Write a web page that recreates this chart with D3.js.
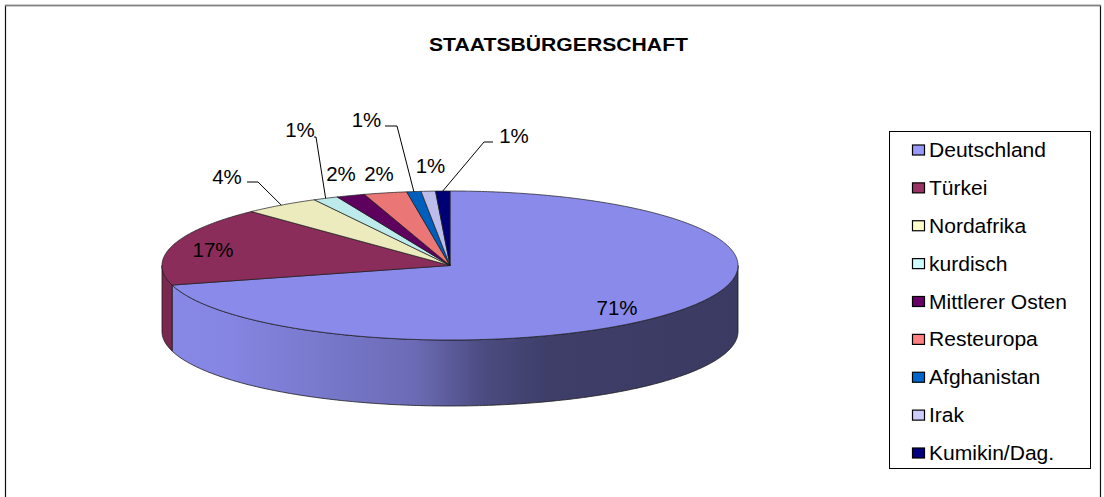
<!DOCTYPE html>
<html>
<head>
<meta charset="utf-8">
<script src="https://cdn.jsdelivr.net/npm/d3@7"></script>
<style>
  body { margin: 0; background: #fff; }
  text { font-family: Arial, "Liberation Sans", sans-serif; }
</style>
</head>
<body>
<div id="chart"></div>
<script>
// data (percent shares)
var categories = ["Deutschland", "Türkei", "Nordafrika", "kurdisch", "Mittlerer Osten",
                  "Resteuropa", "Afghanistan", "Irak", "Kumikin/Dag."];
var values = [70.7, 17.1, 4.3, 1.4, 1.6, 2.4, 0.8, 0.8, 0.8];
var topColors = ["#8a8aeb", "#8b2d5b", "#ebebbe", "#bdebeb", "#5e005e",
                 "#eb7676", "#005ebd", "#bdbdeb", "#000076"];
var swatchColors = ["#9999ff", "#993366", "#ffffcc", "#ccffff", "#660066",
                    "#ff8080", "#0066cc", "#ccccff", "#000080"];
var title = "STAATSBÜRGERSCHAFT";

var width = 1104, height = 497;
var cx = 450, cy = 265.5, rx = 288, ry = 74.5, depth = 66;

// label placement (text centre x, baseline y) and leader knees
var labelPos = [[617, 315], [213, 257], [227, 184], [300, 137], [341, 181],
                [379, 181], [366.5, 127], [430.5, 173], [514, 143]];
var leaders = {
  2: [[247, 182], [258, 182]],
  3: [[314, 137], [316, 137]],
  6: [[385, 126], [397, 126]],
  8: [[493, 142], [484, 142]]
};

var svg = d3.select("#chart")
  .append("svg")
  .attr("width", width)
  .attr("height", height);

// chart frame
svg.append("rect")
  .attr("x", 5.5).attr("y", 5.5)
  .attr("width", 1095).attr("height", 500)
  .attr("fill", "none").attr("stroke", "#111").attr("stroke-width", 1.2);
svg.append("line")
  .attr("x1", 5).attr("x2", 1101).attr("y1", 5.5).attr("y2", 5.5)
  .attr("stroke", "#808080").attr("stroke-width", 1.4);

// gradient for the side of the big slice
var grad = svg.append("defs").append("linearGradient")
  .attr("id", "sideGrad")
  .attr("gradientUnits", "userSpaceOnUse")
  .attr("x1", cx - rx).attr("x2", cx + rx).attr("y1", 0).attr("y2", 0);
[[0, "#8888e8"], [0.12, "#8585e2"], [0.44, "#6b6bb5"], [0.56, "#4b4b80"],
 [0.67, "#3e3e69"], [1, "#3a3a62"]].forEach(function(s) {
  grad.append("stop").attr("offset", s[0]).attr("stop-color", s[1]);
});

var pie = d3.pie().sort(null).startAngle(0).endAngle(2 * Math.PI);
var arcs = pie(values);
var total = d3.sum(values);

function pt(a, dy) {
  return [cx + rx * Math.sin(a), cy - ry * Math.cos(a) + (dy || 0)];
}
function arcPoints(a0, a1, dy) {
  var n = Math.max(2, Math.ceil(Math.abs(a1 - a0) / 0.01));
  return d3.range(n + 1).map(function(i) { return pt(a0 + (a1 - a0) * i / n, dy); });
}
var line = d3.line();

// sides (front half: angles PI/2 .. 3PI/2)
var sideColors = ["url(#sideGrad)", "#7a2850"];
arcs.forEach(function(d, i) {
  var a0 = Math.max(d.startAngle, Math.PI / 2);
  var a1 = Math.min(d.endAngle, 3 * Math.PI / 2);
  if (a1 <= a0) return;
  var pts = arcPoints(a0, a1, 0).concat(arcPoints(a1, a0, depth));
  svg.append("path")
    .attr("d", line(pts) + "Z")
    .attr("fill", sideColors[i] || topColors[i])
    .attr("stroke", "#1a1a1a")
    .attr("stroke-width", 0.8)
    .attr("stroke-linejoin", "round");
});

// top faces
svg.selectAll("path.top")
  .data(arcs)
  .enter()
  .append("path")
  .attr("class", "top")
  .attr("d", function(d) {
    return line([[cx, cy]].concat(arcPoints(d.startAngle, d.endAngle, 0))) + "Z";
  })
  .attr("fill", function(d, i) { return topColors[i]; })
  .attr("stroke", "#1a1a1a")
  .attr("stroke-width", 0.7)
  .attr("stroke-linejoin", "round");

// leader lines
arcs.forEach(function(d, i) {
  if (!leaders[i]) return;
  var mid = (d.startAngle + d.endAngle) / 2;
  var pts = leaders[i].concat([pt(mid, 0)]);
  svg.append("path")
    .attr("d", line(pts))
    .attr("fill", "none")
    .attr("stroke", "#000")
    .attr("stroke-width", 1);
});

// percentage labels
svg.selectAll("text.pct")
  .data(arcs)
  .enter()
  .append("text")
  .attr("class", "pct")
  .attr("transform", function(d, i) {
    return "translate(" + labelPos[i][0] + "," + labelPos[i][1] + ") scale(1.05,1)";
  })
  .attr("text-anchor", "middle")
  .style("font-size", "19.5px")
  .attr("fill", "#000")
  .text(function(d) { return Math.round(d.value / total * 100) + "%"; });

// title
svg.append("text")
  .attr("x", 558.5).attr("y", 51)
  .attr("text-anchor", "middle")
  .attr("textLength", 259)
  .attr("lengthAdjust", "spacingAndGlyphs")
  .style("font-size", "18.5px")
  .style("font-weight", "bold")
  .text(title);

// legend
var legend = svg.append("g");
legend.append("rect")
  .attr("x", 889.5).attr("y", 131.5)
  .attr("width", 201).attr("height", 337)
  .attr("fill", "#fff").attr("stroke", "#000").attr("stroke-width", 1);

var ly = d3.scalePoint().domain(categories).range([150, 453]);
var items = legend.selectAll("g.item")
  .data(categories)
  .enter()
  .append("g")
  .attr("class", "item")
  .attr("transform", function(d) { return "translate(0," + ly(d) + ")"; });
items.append("rect")
  .attr("x", 912.5).attr("y", -5)
  .attr("width", 12).attr("height", 10)
  .attr("fill", function(d, i) { return swatchColors[i]; })
  .attr("stroke", "#000").attr("stroke-width", 1.2);
items.append("text")
  .attr("transform", "translate(929,7) scale(1.08,1)")
  .style("font-size", "19.5px")
  .text(function(d) { return d; });
</script>
</body>
</html>
